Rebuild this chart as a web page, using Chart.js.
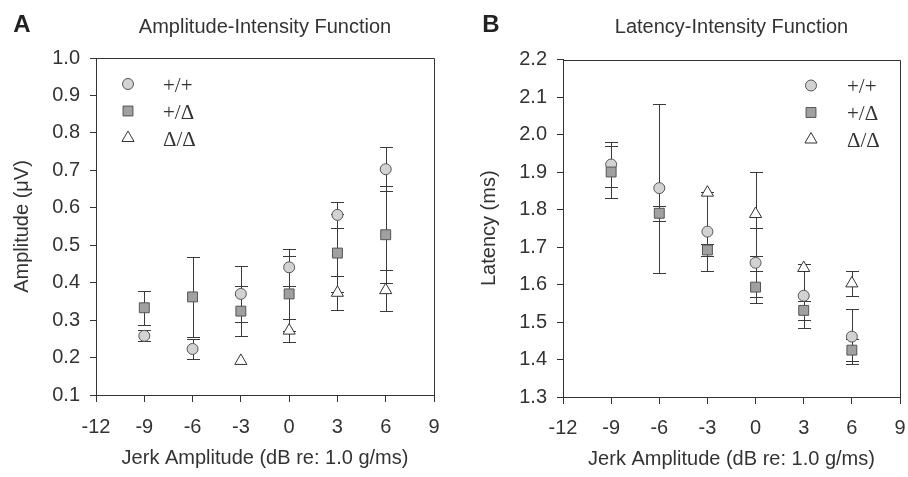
<!DOCTYPE html>
<html><head><meta charset="utf-8">
<script src="https://cdn.jsdelivr.net/npm/chart.js@4.4.1/dist/chart.umd.min.js"></script>
<style>
html,body{margin:0;padding:0;background:#fff;}
#wrap{display:flex;width:908px;height:477px;}
canvas{display:block;}
</style>
</head><body>
<div id="wrap"><canvas id="chartA" width="454" height="477"></canvas><canvas id="chartB" width="454" height="477"></canvas></div>
<script>
// ---- data ----
const xValues = [-9, -6, -3, 0, 3, 6];
const xTickValues = [-12, -9, -6, -3, 0, 3, 6, 9];
const ampTickValues = [0.1, 0.2, 0.3, 0.4, 0.5, 0.6, 0.7, 0.8, 0.9, 1.0];
const latTickValues = [1.3, 1.4, 1.5, 1.6, 1.7, 1.8, 1.9, 2.0, 2.1, 2.2];
const groupLabels = ['+/+', '+/\u0394', '\u0394/\u0394'];

const ampWT      = [0.258, 0.223, 0.370, 0.441, 0.581, 0.703];
const ampWTErr   = [0.015, 0.027, 0.075, 0.050, 0.034, 0.058];
const ampHet     = [0.333, 0.362, 0.324, 0.370, 0.479, 0.528];
const ampHetErr  = [0.045, 0.107, 0.067, 0.100, 0.105, 0.130];
const ampMut     = [null, null, 0.191, 0.272, 0.373, 0.380];
const ampMutErr  = [null, null, 0, 0.030, 0.045, 0.055];

const latWT      = [1.920, 1.857, 1.741, 1.658, 1.570, 1.461];
const latWTErr   = [0.059, 0.225, 0.105, 0.092, 0.086, 0.073];
const latHet     = [1.900, 1.790, 1.692, 1.593, 1.531, 1.425];
const latHetErr  = [0.070, 0.020, 0.017, 0.042, 0.025, 0.030];
const latMut     = [null, null, 1.845, 1.788, 1.644, 1.603];
const latMutErr  = [null, null, 0, 0.113, 0, 0.034];

// ---- styles ----
const INK = '#333333';
const FONT = "'Liberation Sans', Arial, sans-serif";
const FS = 20;
Chart.defaults.font.family = FONT;
Chart.defaults.color = INK;

const markerStyles = [
  {pointStyle: 'circle',   radius: 5.5, backgroundColor: '#d2d2d2', borderColor: '#555555', order: 3},
  {pointStyle: 'rect',     radius: 7,   backgroundColor: '#a0a0a0', borderColor: '#555555', order: 2},
  {pointStyle: 'triangle', radius: 7,   backgroundColor: '#ffffff', borderColor: '#333333', order: 1}
];

function toPoints(vals) {
  return xValues.map((x, i) => ({x: x, y: vals[i]})).filter(p => p.y !== null);
}
function errsFor(vals, errs) {
  return xValues.map((x, i) => errs[i]).filter((e, i) => vals[i] !== null);
}

const errorBarPlugin = {
  id: 'errorBars',
  beforeDatasetsDraw(chart) {
    const ctx = chart.ctx;
    const xs = chart.scales.x, ys = chart.scales.y;
    ctx.save();
    ctx.strokeStyle = '#3a3a3a';
    ctx.lineWidth = 1;
    chart.data.datasets.forEach((ds) => {
      ds.data.forEach((p, i) => {
        const e = ds.errors[i];
        if (!e) return;
        const px = Math.round(xs.getPixelForValue(p.x)) + 0.5;
        const yt = Math.round(ys.getPixelForValue(p.y + e)) + 0.5;
        const yb = Math.round(ys.getPixelForValue(p.y - e)) + 0.5;
        ctx.beginPath();
        ctx.moveTo(px, yt); ctx.lineTo(px, yb);
        ctx.moveTo(px - 6.5, yt); ctx.lineTo(px + 6.5, yt);
        ctx.moveTo(px - 6.5, yb); ctx.lineTo(px + 6.5, yb);
        ctx.stroke();
      });
    });
    // frame top/right
    const a = chart.chartArea;
    ctx.strokeStyle = INK;
    ctx.beginPath();
    ctx.moveTo(Math.round(a.left) + 0.5, Math.round(a.top) + 0.5);
    ctx.lineTo(Math.round(a.right) + 0.5, Math.round(a.top) + 0.5);
    ctx.lineTo(Math.round(a.right) + 0.5, Math.round(a.bottom) + 0.5);
    ctx.stroke();
    ctx.restore();
  }
};

const decorPlugin = {
  id: 'decor',
  afterDraw(chart, args, opts) {
    const ctx = chart.ctx;
    const a = chart.chartArea;
    ctx.save();
    ctx.textBaseline = 'middle';
    // panel letter
    ctx.font = "bold 24px " + FONT;
    ctx.textAlign = 'center';
    ctx.fillStyle = '#222222';
    ctx.fillText(opts.letter, opts.letterX, 25);
    // title
    ctx.fillStyle = INK;
    ctx.font = FS + "px " + FONT;
    ctx.fillText(opts.title, (a.left + a.right) / 2, 27);
    // legend
    const lx = opts.legendFromRight ? a.right - opts.markerOffset : a.left + opts.markerOffset;
    const tx = opts.legendFromRight ? a.right - opts.textOffset : a.left + opts.textOffset;
    ctx.textAlign = 'left';
    ctx.font = "21px 'Liberation Serif', 'Times New Roman', serif";
    groupLabels.forEach((lab, i) => {
      const y = a.top + 26 + i * 27;
      const m = markerStyles[i];
      ctx.fillStyle = m.backgroundColor;
      ctx.strokeStyle = m.borderColor;
      ctx.lineWidth = 1;
      Chart.helpers.drawPoint(ctx, {pointStyle: m.pointStyle, radius: m.radius, borderWidth: 1, rotation: 0}, lx, y);
      ctx.fillStyle = INK;
      ctx.fillText(lab, tx, y + 2);
    });
    ctx.restore();
  }
};

function makeChart(id, series, errs, yTicks, yTitle, cfg) {
  const datasets = series.map((vals, k) => ({
    label: groupLabels[k],
    data: toPoints(vals),
    errors: errsFor(vals, errs[k]),
    pointStyle: markerStyles[k].pointStyle,
    pointRadius: markerStyles[k].radius,
    pointHoverRadius: markerStyles[k].radius,
    pointBackgroundColor: markerStyles[k].backgroundColor,
    pointBorderColor: markerStyles[k].borderColor,
    pointBorderWidth: 1,
    showLine: false,
    order: markerStyles[k].order
  }));
  return new Chart(document.getElementById(id), {
    type: 'scatter',
    data: {datasets},
    plugins: [errorBarPlugin, decorPlugin],
    options: {
      responsive: false,
      animation: false,
      devicePixelRatio: 1,
      layout: {padding: {left: 0, right: cfg.padRight, top: cfg.padTop, bottom: 0}},
      plugins: {
        legend: {display: false},
        tooltip: {enabled: false},
        decor: cfg.decor
      },
      scales: {
        x: {
          type: 'linear',
          min: -12, max: 9,
          afterBuildTicks: (s) => { s.ticks = xTickValues.map(v => ({value: v})); },
          afterFit: (s) => { s.height = cfg.xHeight; s.paddingLeft = 0; s.paddingRight = 0; },
          grid: {drawOnChartArea: false, drawTicks: true, tickLength: 7, color: INK},
          border: {display: true, color: INK, width: 1},
          ticks: {font: {size: FS}, color: INK, padding: cfg.xTickPad, maxRotation: 0, callback: (v) => String(v)},
          title: {display: true, text: 'Jerk Amplitude (dB re: 1.0 g/ms)', font: {size: FS}, color: INK, padding: {top: 0, bottom: cfg.xTitlePad}}
        },
        y: {
          type: 'linear',
          min: yTicks[0], max: yTicks[yTicks.length - 1],
          afterBuildTicks: (s) => { s.ticks = yTicks.map(v => ({value: v})); },
          afterFit: (s) => { s.width = cfg.yWidth; s.paddingTop = 0; s.paddingBottom = 0; },
          grid: {drawOnChartArea: false, drawTicks: true, tickLength: 6, color: INK},
          border: {display: true, color: INK, width: 1},
          ticks: {font: {size: FS}, color: INK, padding: 10, callback: (v) => Number(v).toFixed(1)},
          title: {display: true, text: yTitle, font: {size: FS}, color: INK, padding: {top: cfg.yTitlePad, bottom: 0}}
        }
      }
    }
  });
}

makeChart('chartA', [ampWT, ampHet, ampMut], [ampWTErr, ampHetErr, ampMutErr], ampTickValues, 'Amplitude (\u03bcV)', {
  padRight: 20, padTop: 58, xHeight: 82, yWidth: 96, xTickPad: 13, xTitlePad: 7, yTitlePad: 10,
  decor: {letter: 'A', letterX: 22, title: 'Amplitude-Intensity Function', legendFromRight: false, markerOffset: 32, textOffset: 67}
});
makeChart('chartB', [latWT, latHet, latMut], [latWTErr, latHetErr, latMutErr], latTickValues, 'Latency (ms)', {
  padRight: 7, padTop: 59.5, xHeight: 80, yWidth: 109, xTickPad: 12, xTitlePad: 6, yTitlePad: 23,
  decor: {letter: 'B', letterX: 37, title: 'Latency-Intensity Function', legendFromRight: true, markerOffset: 89, textOffset: 53}
});
</script>
</body></html>
